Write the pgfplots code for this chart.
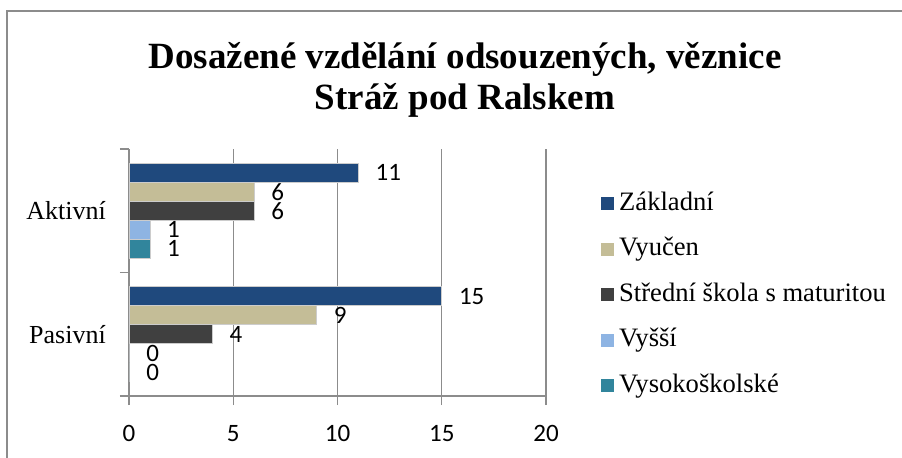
\documentclass[border=0pt]{standalone}
\usepackage{pgfplots}
\pgfplotsset{compat=1.18}
\usepackage{fontspec}
\setmainfont{Liberation Serif}
\newfontfamily\tnr{Liberation Serif}
\newfontfamily\carlito{Carlito}
\definecolor{cZak}{HTML}{1F497D}
\definecolor{cVyu}{HTML}{C4BD97}
\definecolor{cSS}{HTML}{404040}
\definecolor{cVys}{HTML}{8EB4E3}
\definecolor{cVS}{HTML}{31859C}
\definecolor{axgray}{HTML}{8C8C8C}
\begin{document}
\begin{tikzpicture}
\path[use as bounding box] (0,0) rectangle (902bp,458bp);
\draw[axgray, line width=2bp] (7bp,0) -- (7bp,447bp) -- (902bp,447bp);
\node[anchor=base, font=\tnr\bfseries\fontsize{37bp}{37bp}\selectfont] at (465bp,389bp) {Dosažené vzdělání odsouzených, věznice};
\node[anchor=base, font=\tnr\bfseries\fontsize{37bp}{37bp}\selectfont] at (465bp,348bp) {Stráž pod Ralskem};
\begin{axis}[
  at={(129bp,62bp)}, anchor=south west,
  scale only axis, width=417bp, height=247bp,
  xbar=0pt, bar width=19bp,
  xmin=0, xmax=20, ymin=-0.5, ymax=1.5,
  axis x line*=bottom, axis y line*=left,
  axis line style={axgray, line width=1.3bp},
  xtick={0,5,10,15,20},
  ytick={-0.5,0.5,1.5}, yticklabels={},
  extra y ticks={0,1}, extra y tick labels={Pasivní,Aktivní},
  extra y tick style={major tick length=0pt, yticklabel style={font=\tnr\fontsize{26bp}{26bp}\selectfont, inner sep=0pt, xshift=-23bp}},
  tick align=outside, major tick length=9bp,
  tick style={axgray, line width=1.3bp},
  xmajorgrids, major grid style={axgray, line width=1.3bp},
  /pgf/number format/assume math mode=true,
  xticklabel style={font=\carlito\fontsize{25bp}{25bp}\selectfont, inner sep=0pt, yshift=-20bp},
  nodes near coords,
  every node near coord/.append style={font=\carlito\fontsize{25bp}{25bp}\selectfont, anchor=west, inner sep=0pt, xshift=17bp, text=black},
  reverse legend,
  legend cell align=left,
  legend style={at={(axis description cs:1.1319,0.8259)}, anchor=north west, draw=none, fill=none, inner sep=0pt, row sep=21.5bp, column sep=5bp, font=\tnr\fontsize{26.6bp}{26.6bp}\selectfont, nodes={inner sep=0pt, text height=18bp, text depth=6bp, font=\tnr\fontsize{26.6bp}{26.6bp}\selectfont}},
  legend image code/.code={\fill[#1, draw=none] (0bp,-6bp) rectangle (13bp,7bp);},
]
\addplot[fill=cVS, draw=white!80!black, line width=0.6bp] coordinates {(1,1) (0,0)};
\addplot[fill=cVys, draw=white!80!black, line width=0.6bp] coordinates {(1,1) (0,0)};
\addplot[fill=cSS, draw=white!80!black, line width=0.6bp] coordinates {(6,1) (4,0)};
\addplot[fill=cVyu, draw=white!80!black, line width=0.6bp] coordinates {(6,1) (9,0)};
\addplot[fill=cZak, draw=white!80!black, line width=0.6bp] coordinates {(11,1) (15,0)};
\legend{Vysokoškolské, Vyšší, Střední škola s maturitou, Vyučen, Základní}
\end{axis}
\end{tikzpicture}
\end{document}
